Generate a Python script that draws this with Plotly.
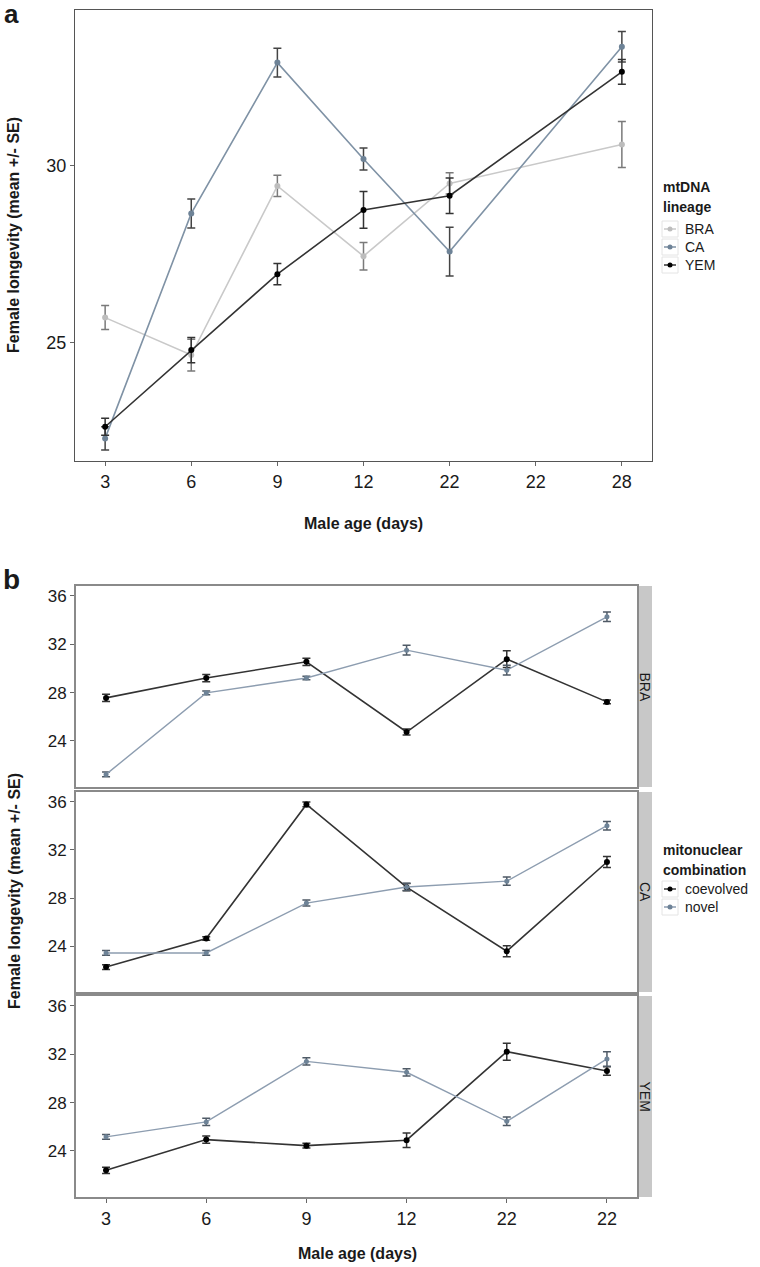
import plotly.graph_objects as go

# ---- panel a: female longevity by male age and mtDNA lineage ----
ages_a = ["3", "6", "9", "12", "22", "22", "28"]
bra_mean = [25.70, 24.64, 29.43, 27.44, 29.50, None, 30.60]
bra_se = [0.34, 0.45, 0.30, 0.39, 0.30, None, 0.65]
ca_mean = [22.28, 28.65, 32.92, 30.19, 27.57, None, 33.37]
ca_se = [0.33, 0.41, 0.41, 0.31, 0.69, None, 0.43]
yem_mean = [22.61, 24.78, 26.93, 28.75, 29.15, None, 32.66]
yem_se = [0.24, 0.36, 0.30, 0.52, 0.50, None, 0.35]

# ---- panel b: coevolved vs novel mitonuclear combinations per lineage ----
ages_b = ["3", "6", "9", "12", "22", "22"]
facets = ["BRA", "CA", "YEM"]
coev_mean = {
    "BRA": [27.56, 29.20, 30.54, 24.74, 30.76, 27.23],
    "CA": [22.27, 24.64, 35.77, 28.90, 23.58, 30.99],
    "YEM": [22.40, 24.94, 24.44, 24.89, 32.20, 30.60],
}
coev_se = {
    "BRA": [0.30, 0.30, 0.30, 0.25, 0.70, 0.15],
    "CA": [0.20, 0.15, 0.20, 0.30, 0.45, 0.45],
    "YEM": [0.25, 0.30, 0.20, 0.60, 0.70, 0.35],
}
novel_mean = {
    "BRA": [21.24, 27.97, 29.20, 31.50, 29.85, 34.26],
    "CA": [23.44, 23.44, 27.58, 28.92, 29.40, 34.00],
    "YEM": [25.17, 26.40, 31.40, 30.50, 26.45, 31.60],
}
novel_se = {
    "BRA": [0.20, 0.15, 0.15, 0.40, 0.40, 0.40],
    "CA": [0.20, 0.20, 0.25, 0.30, 0.35, 0.35],
    "YEM": [0.20, 0.30, 0.30, 0.30, 0.35, 0.60],
}

FONT = "Liberation Sans, Arial, sans-serif"
W, H = 760, 1267


def px(x0, x1):
    return [x0 / W, x1 / W]


def py(top, bottom):
    return [1 - bottom / H, 1 - top / H]


fig = go.Figure()

xa = list(range(len(ages_a)))
lineages = [
    ("BRA", bra_mean, bra_se, "#c9c9c9", "#bdbdbd", "#7a7a7a"),
    ("CA", ca_mean, ca_se, "#7f92a5", "#6e8397", "#444444"),
    ("YEM", yem_mean, yem_se, "#333333", "#000000", "#333333"),
]
for name, m, se, lc, mc, ec in lineages:
    fig.add_trace(go.Scatter(
        x=xa, y=m, name=name, mode="lines+markers", connectgaps=True,
        line=dict(color=lc, width=1.6),
        marker=dict(color=mc, size=6),
        error_y=dict(type="data", array=se, color=ec, thickness=1.5, width=4),
        xaxis="x", yaxis="y", showlegend=False,
    ))

combos = [("coevolved", "#333333", "#000000"), ("novel", "#8d9db0", "#6e8397")]
xb = list(range(len(ages_b)))
for i, fac in enumerate(facets):
    k = str(i + 2)
    fig.add_trace(go.Scatter(
        x=xb, y=coev_mean[fac], name="coevolved", mode="lines+markers",
        line=dict(color="#333333", width=1.6),
        marker=dict(color="#000000", size=6),
        error_y=dict(type="data", array=coev_se[fac], color="#333333", thickness=1.5, width=4),
        xaxis="x" + k, yaxis="y" + k, showlegend=False,
    ))
    fig.add_trace(go.Scatter(
        x=xb, y=novel_mean[fac], name="novel", mode="lines+markers",
        line=dict(color="#8d9db0", width=1.4),
        marker=dict(color="#6e8397", size=5),
        error_y=dict(type="data", array=novel_se[fac], color="#4f5a66", thickness=1.5, width=4),
        xaxis="x" + k, yaxis="y" + k, showlegend=False,
    ))

frame = dict(showline=True, mirror=True, showgrid=False, zeroline=False,
             ticks="outside", ticklen=4, tickcolor="#666666",
             tickfont=dict(family=FONT, size=18, color="#1a1a1a"))

layout = dict(
    width=W, height=H, margin=dict(l=0, r=0, t=0, b=0),
    paper_bgcolor="white", plot_bgcolor="white", font=dict(family=FONT),
    showlegend=False,
    xaxis=dict(frame, domain=px(75, 652), range=[-0.35, 6.35],
               tickvals=xa, ticktext=ages_a, linecolor="#555555", linewidth=1.3),
    yaxis=dict(frame, domain=py(10, 461), range=[21.64, 34.41],
               tickvals=[25, 30], linecolor="#555555", linewidth=1.3),
)
facet_rows = [(586, 787), (792, 992), (996, 1197)]
for i, (top, bot) in enumerate(facet_rows):
    k = str(i + 2)
    last = i == len(facet_rows) - 1
    layout["xaxis" + k] = dict(frame, domain=px(76, 637), range=[-0.3, 5.3],
                               tickvals=xb, ticktext=ages_b, anchor="y" + k,
                               showticklabels=last, ticks="outside" if last else "",
                               linecolor="#8a8a8a", linewidth=2)
    layout["yaxis" + k] = dict(frame, domain=py(top, bot), range=[20.2, 36.8],
                               tickvals=[24, 28, 32, 36], anchor="x" + k,
                               tickfont=dict(family=FONT, size=17, color="#1a1a1a"),
                               linecolor="#8a8a8a", linewidth=2)
fig.update_layout(**layout)


def note(text, x, y, size=16, angle=0, xanchor="center"):
    fig.add_annotation(text=text, xref="paper", yref="paper", x=x / W, y=1 - y / H,
                       xanchor=xanchor, yanchor="middle", textangle=angle, showarrow=False,
                       font=dict(family=FONT, size=size, color="#1a1a1a"))


# facet strips on the right
for fac, (top, bot) in zip(facets, facet_rows):
    fig.add_shape(type="rect", xref="paper", yref="paper",
                  x0=638 / W, x1=652 / W, y0=1 - bot / H, y1=1 - top / H,
                  fillcolor="#c8c8c8", line=dict(width=0), layer="below")
    note(fac, 645, (top + bot) / 2, size=14, angle=90)


# hand-drawn legends (ggplot style keys)
def legend(title_lines, title_y, entries, first_y, step=18):
    for j, t in enumerate(title_lines):
        note("<b>%s</b>" % t, 661, title_y + j * 20, size=14, xanchor="left")
    for j, (name, lc, mc) in enumerate(entries):
        yc = 1 - (first_y + j * step) / H
        fig.add_shape(type="rect", xref="paper", yref="paper",
                      x0=662 / W, x1=678 / W, y0=yc - 8 / H, y1=yc + 8 / H,
                      line=dict(color="#e4e4e4", width=1))
        fig.add_shape(type="line", xref="paper", yref="paper",
                      x0=664 / W, x1=676 / W, y0=yc, y1=yc,
                      line=dict(color=lc, width=1.5))
        fig.add_shape(type="circle", xref="paper", yref="paper",
                      x0=667.5 / W, x1=672.5 / W, y0=yc - 2.5 / H, y1=yc + 2.5 / H,
                      fillcolor=mc, line=dict(width=0))
        note(name, 683, first_y + j * step, size=14, xanchor="left")


legend(["mtDNA", "lineage"], 187, [(n, lc, mc) for n, _, _, lc, mc, _ in lineages], 229)
legend(["mitonuclear", "combination"], 850, combos, 889)

# axis titles and panel letters
note("<b>Female longevity (mean +/- SE)</b>", 14, 235, angle=-90)
note("<b>Male age (days)</b>", 363, 523)
note("<b>Female longevity (mean +/- SE)</b>", 14, 891, angle=-90)
note("<b>Male age (days)</b>", 357, 1253)
note("<b>a</b>", 11, 14, size=26)
note("<b>b</b>", 11, 579, size=28)

fig.write_html("out.html", config={"displayModeBar": False},
               post_script="document.body.style.margin='0';")
